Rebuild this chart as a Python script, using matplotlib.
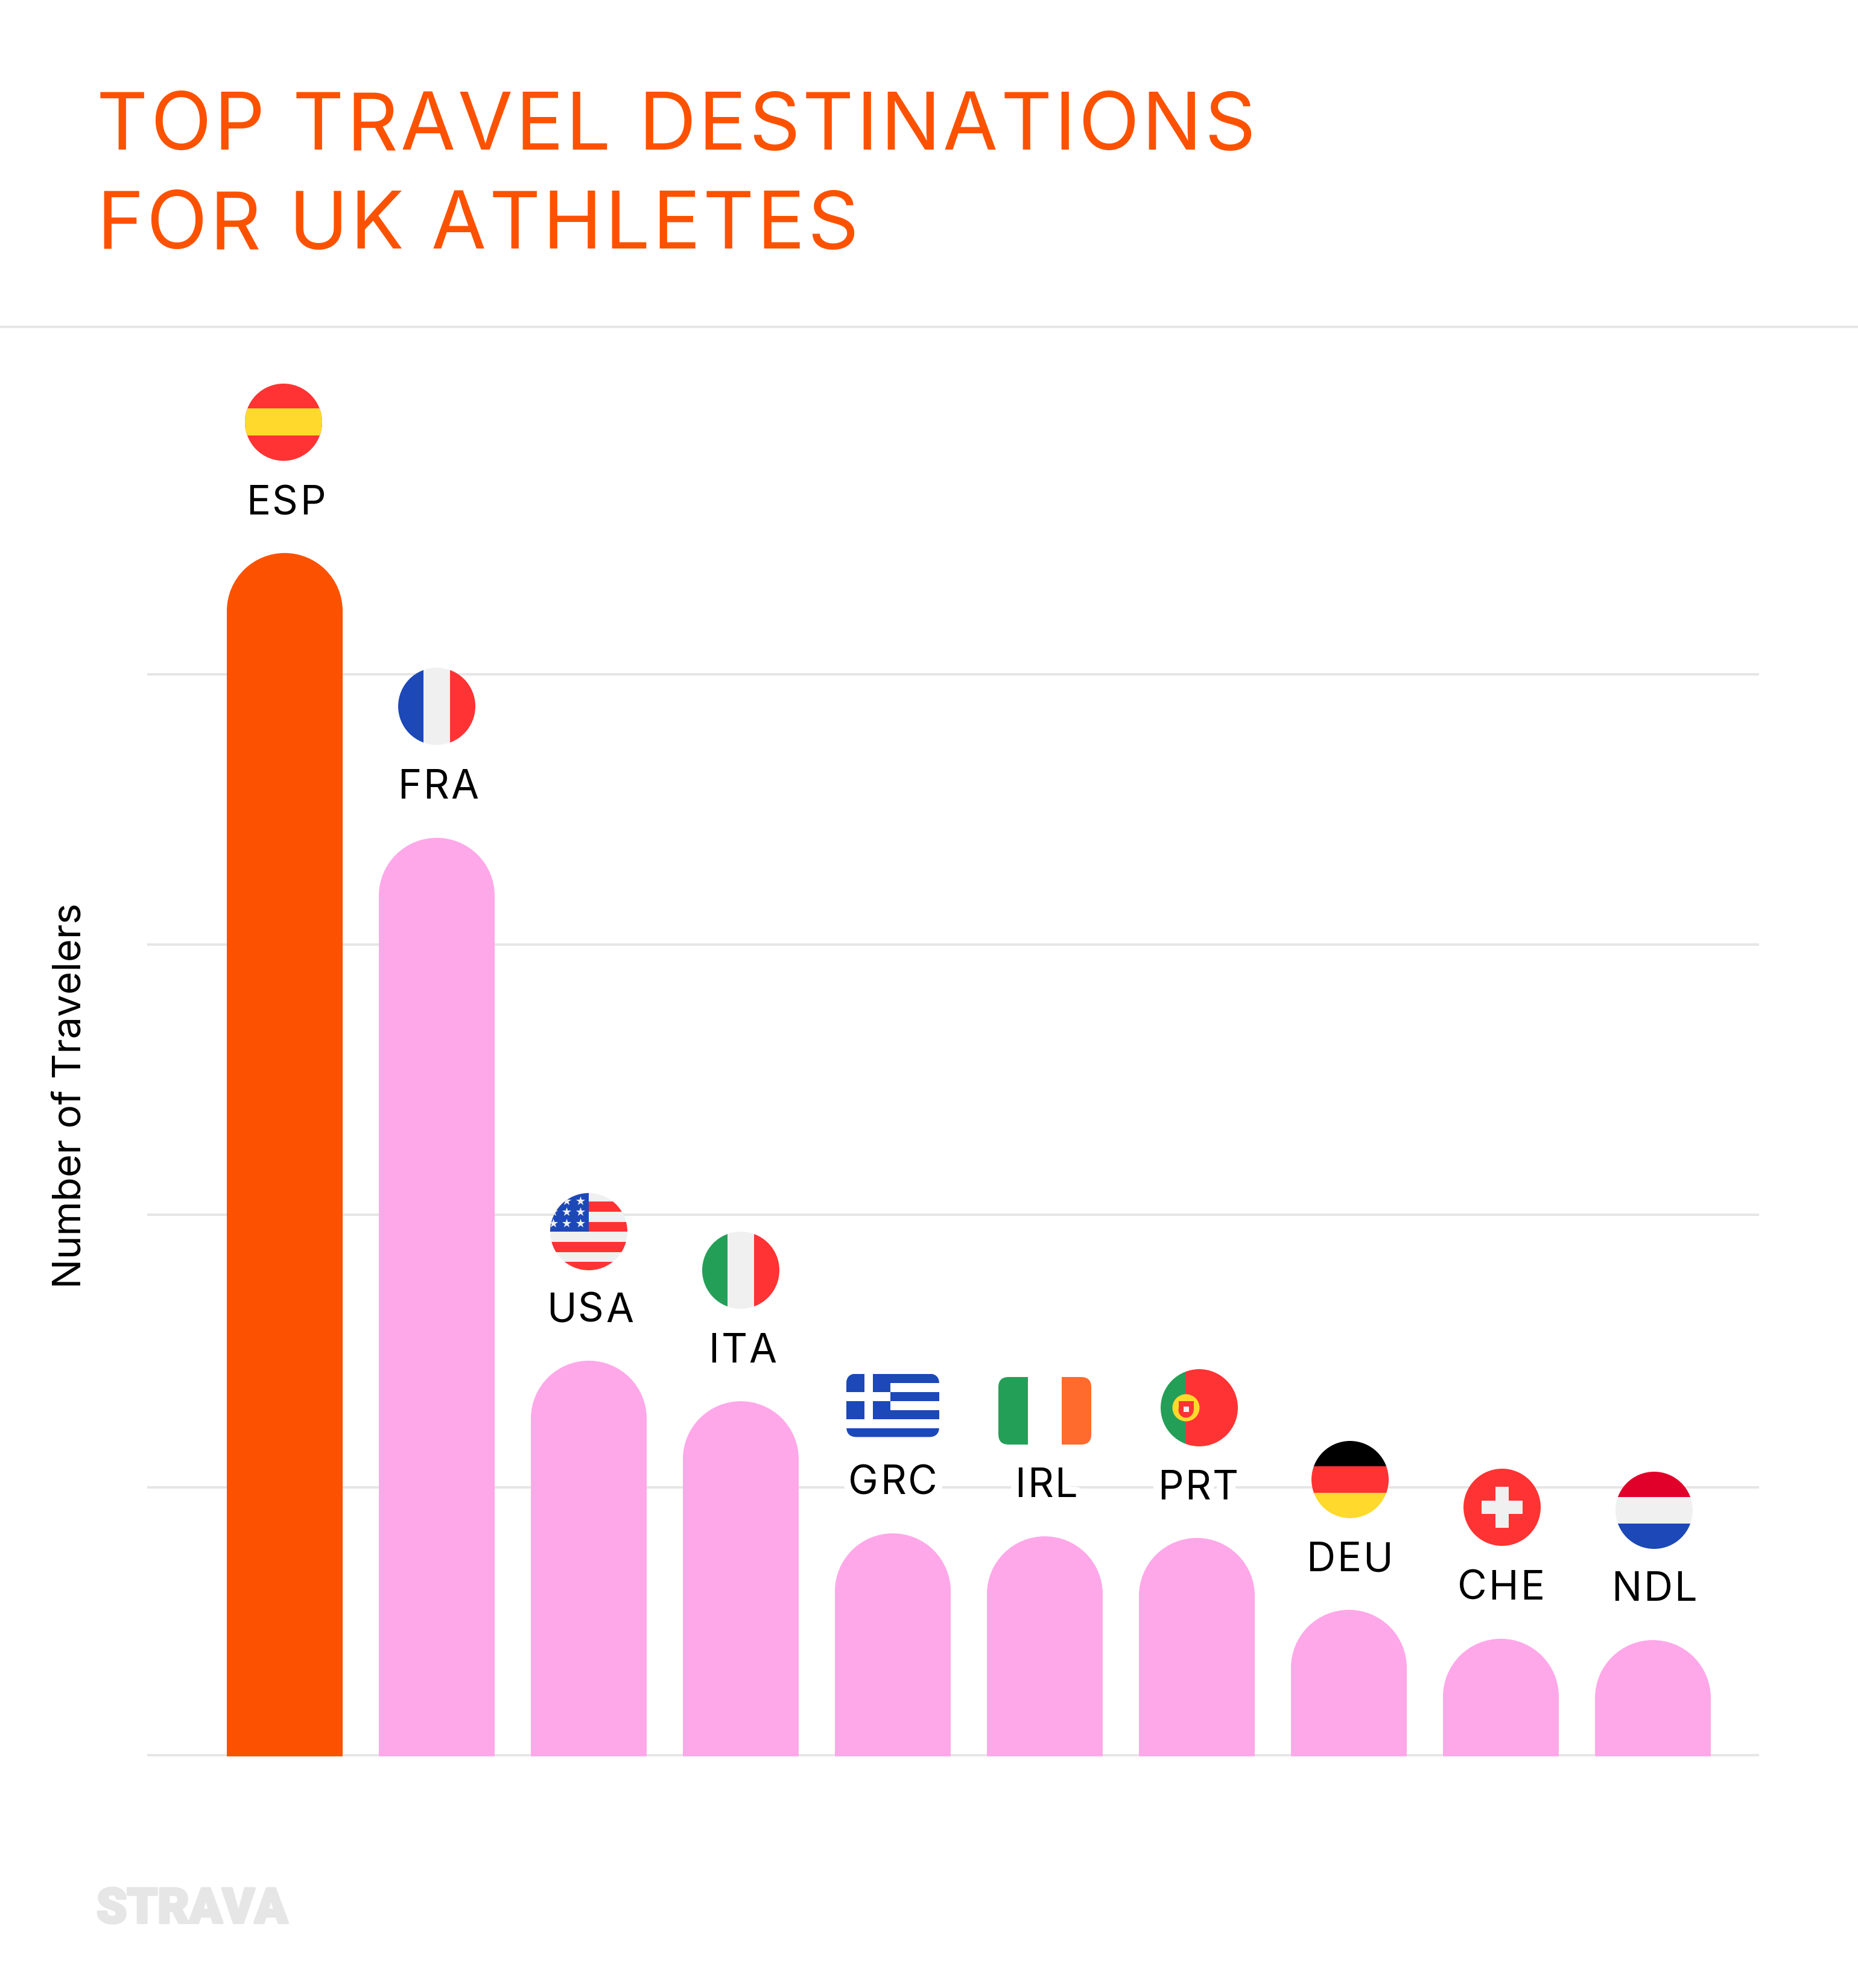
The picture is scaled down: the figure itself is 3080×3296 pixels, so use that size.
import matplotlib
matplotlib.use("Agg")
import matplotlib.pyplot as plt
import matplotlib.patheffects as pe
from matplotlib.font_manager import findfont, get_font
from matplotlib.patches import Rectangle, Circle, Ellipse, FancyBboxPatch
from matplotlib.text import Text
from matplotlib.transforms import IdentityTransform

plt.rcParams['font.family'] = ['Inter', 'DejaVu Sans']

# data (the axis has no numbers, gridlines taken as 1000 steps)
countries = ["ESP", "FRA", "USA", "ITA", "GRC", "IRL", "PRT", "DEU", "CHE", "NDL"]
travelers = [4449, 3395, 1460, 1310, 821, 810, 804, 538, 431, 426]
grid_values = [0, 990, 2000, 3000, 4000]

ORANGE = "#FC5200"
PINK = "#FFA8E9"
GREY = "#E6E6E6"
RED = "#FF3333"
YELLOW = "#FFDA2C"
BLUE = "#1C48B8"
WHITE = "#F0F0F0"
GREEN = "#249F58"

# layout in pixels
W, H = 3080, 3296
flag_x = [470, 724, 976, 1228, 1480, 1732, 1988, 2238, 2490, 2742]
flag_y = [700, 1171, 2042, 2106, 2330, 2339, 2334, 2453, 2499, 2504]
label_x = [474, 726, 978, 1231, 1480, 1734, 1986, 2237, 2488, 2742]
label_y = [853, 1324, 2192, 2259, 2477, 2482, 2486, 2605, 2652, 2654]


class SpacedText(Text):
    # matplotlib has no letter-spacing, so draw the string letter by letter
    def __init__(self, *args, tracking=0, halo=0, **kwargs):
        super().__init__(*args, **kwargs)
        self.tracking = tracking
        self.halo = halo

    def letters(self):
        s = self.get_text()
        prop = self.get_fontproperties()
        font = get_font(findfont(prop))
        font.set_size(prop.get_size_in_points(), 100)
        adv = [font.load_char(ord(c)).linearHoriAdvance / 65536 + self.tracking for c in s]
        x, y = self.get_transform().transform(self.get_position())
        if self.get_ha() == "center":
            x -= (sum(adv) - self.tracking) / 2
        out = []
        for c, a in zip(s, adv):
            if c != " ":
                out.append((x, y, c))
            x += a
        return out

    def get_window_extent(self, renderer=None, dpi=None):
        box = super().get_window_extent(renderer, dpi)
        extra = self.tracking * (len(self.get_text()) - 1)
        if self.get_ha() == "center":
            return box.expanded(1 + extra / max(box.width, 1), 1)
        box.x1 += extra
        return box

    def draw(self, renderer):
        pieces = self.letters()
        effects = [[pe.Stroke(linewidth=self.halo, foreground="white")], []] if self.halo else [[]]
        for eff in effects:
            for x, y, c in pieces:
                t = Text(x, y, c, fontproperties=self.get_fontproperties(), color=self.get_color(),
                         ha="left", va="baseline", transform=IdentityTransform(), path_effects=eff)
                t.set_figure(self.get_figure())
                t.draw(renderer)


fig = plt.figure(figsize=(W / 100, H / 100), dpi=100, facecolor="white")

# main axes, 0 sits on the bottom gridline, 0.448 px per traveler
px_unit = 0.448
left, right, top_px, bot_px = 244, 2916, 800, 2912
ax = fig.add_axes([left / W, 1 - bot_px / H, (right - left) / W, (bot_px - top_px) / H])
ax.set_xlim((left - 472) / 252, (right - 472) / 252)
ax.set_ylim(-2 / px_unit, (2910 - top_px) / px_unit)
ax.patch.set_alpha(0)
for s in ax.spines.values():
    s.set_visible(False)
ax.set_xticks([])
ax.set_yticks(grid_values)
ax.tick_params(length=0, labelleft=False)
ax.set_axisbelow(True)
ax.grid(axis="y", color=GREY, lw=2.9)

bar_w = 192 / 252
cap_h = 96 / px_unit
base = -2 / px_unit
for i, v in enumerate(travelers):
    col = ORANGE if i == 0 else PINK
    ax.bar(i, v - cap_h - base, bottom=base, width=bar_w, color=col, lw=0)
    ax.add_patch(Ellipse((i, v - cap_h), bar_w, 2 * cap_h, facecolor=col, lw=0))

# overlay in pixel coords for the header, flags and labels
ov = fig.add_axes([0, 0, 1, 1])
ov.set_xlim(0, W)
ov.set_ylim(H, 0)
ov.axis("off")
ov.patch.set_alpha(0)


def rects(clip, items):
    ov.add_patch(clip)
    for x0, y0, x1, y1, c in items:
        r = Rectangle((x0, y0), x1 - x0, y1 - y0, facecolor=c, lw=0)
        ov.add_patch(r)
        r.set_clip_path(clip)


def circle_flag(cx, cy, items):
    clip = Circle((cx, cy), 64, facecolor="none", lw=0)
    rects(clip, [(cx + a, cy + b, cx + c, cy + d, col) for a, b, c, d, col in items])


def round_flag(cx, cy, w, h, items):
    clip = FancyBboxPatch((cx - w / 2, cy - h / 2), w, h, boxstyle="round,pad=0,rounding_size=17",
                          facecolor="none", lw=0)
    rects(clip, [(cx + a, cy + b, cx + c, cy + d, col) for a, b, c, d, col in items])


R = 70
fx, fy = flag_x, flag_y
circle_flag(fx[0], fy[0], [(-R, -R, R, R, RED), (-R, -23, R, 22, YELLOW)])
circle_flag(fx[1], fy[1], [(-R, -R, -22, R, BLUE), (-22, -R, 22, R, WHITE), (22, -R, R, R, RED)])
# usa
usa = [(-R, -R, R, R, WHITE)]
usa += [(-R, a, R, b, RED) for a, b in [(-50, -33), (-16, 0), (17, 34), (50, R)]]
usa += [(-R, -R, 0, 0, BLUE)]
circle_flag(fx[2], fy[2], usa)
star_clip = Circle((fx[2], fy[2]), 64, facecolor="none", lw=0)
ov.add_patch(star_clip)
for dx in (-14, -37, -59):
    for dy in (-51, -33, -14):
        st = ov.scatter(fx[2] + dx, fy[2] + dy, marker="*", s=130, color=WHITE, lw=0)
        st.set_clip_path(star_clip)
circle_flag(fx[3], fy[3], [(-R, -R, -22, R, GREEN), (-22, -R, 22, R, WHITE), (22, -R, R, R, RED)])
# greece
gre = [(-77, -52.5, 77, 52.5, "white")]
for a in (-52.5, -22.5, 7.5, 37.5):
    gre.append((-77, a, 77, a + 15, BLUE))
gre.append((-77, -52.5, -4, 22.5, BLUE))
gre.append((-77, -22.5, -4, -7.5, "white"))
gre.append((-47.5, -52.5, -33, 22.5, "white"))
round_flag(fx[4], fy[4], 154, 105, gre)
round_flag(fx[5], fy[5], 154, 112, [(-77, -56, -28, 56, GREEN), (-28, -56, 28, 56, "white"), (28, -56, 77, 56, "#FF6B2D")])
# portugal
circle_flag(fx[6], fy[6], [(-R, -R, -22, R, GREEN), (-22, -R, R, R, RED)])
ov.add_patch(Circle((fx[6] - 22, fy[6]), 22.5, facecolor=YELLOW, lw=0))
ov.add_patch(Rectangle((fx[6] - 34.5, fy[6] - 11), 25, 15, facecolor=RED, lw=0))
ov.add_patch(Circle((fx[6] - 22, fy[6] + 4), 12.5, facecolor=RED, lw=0))
ov.add_patch(Rectangle((fx[6] - 26, fy[6] - 2), 8.5, 9, facecolor=WHITE, lw=0))
circle_flag(fx[7], fy[7], [(-R, -R, R, -22, "black"), (-R, -22, R, 22, RED), (-R, 22, R, R, YELLOW)])
circle_flag(fx[8], fy[8], [(-R, -R, R, R, RED), (-34, -11, 34, 11, WHITE), (-11, -34, 11, 34, WHITE)])
circle_flag(fx[9], fy[9], [(-R, -R, R, -22, "#E0002A"), (-R, -22, R, 22, WHITE), (-R, 22, R, R, BLUE)])

for i, name in enumerate(countries):
    ov.add_artist(SpacedText(label_x[i], label_y[i], name, ha="center", va="baseline", fontsize=48,
                             color="black", tracking=3, halo=18))

ov.add_artist(SpacedText(160, 248, "TOP TRAVEL DESTINATIONS", fontsize=95, color=ORANGE, va="baseline", tracking=4.3))
ov.add_artist(SpacedText(160, 412, "FOR UK ATHLETES", fontsize=95, color=ORANGE, va="baseline", tracking=4.3))
ov.plot([0, W], [542, 542], color=GREY, lw=2.9)
ov.text(117, 1817, "Number of Travelers", rotation=90, fontsize=47, color="black",
        ha="center", va="center")
ov.text(160, 3188, "STRAVA", fontsize=58, color=GREY, va="baseline", family=["Roboto", "DejaVu Sans"], fontweight=900,
        path_effects=[pe.withStroke(linewidth=3, foreground=GREY)])

fig.savefig("out.png", dpi=100)
